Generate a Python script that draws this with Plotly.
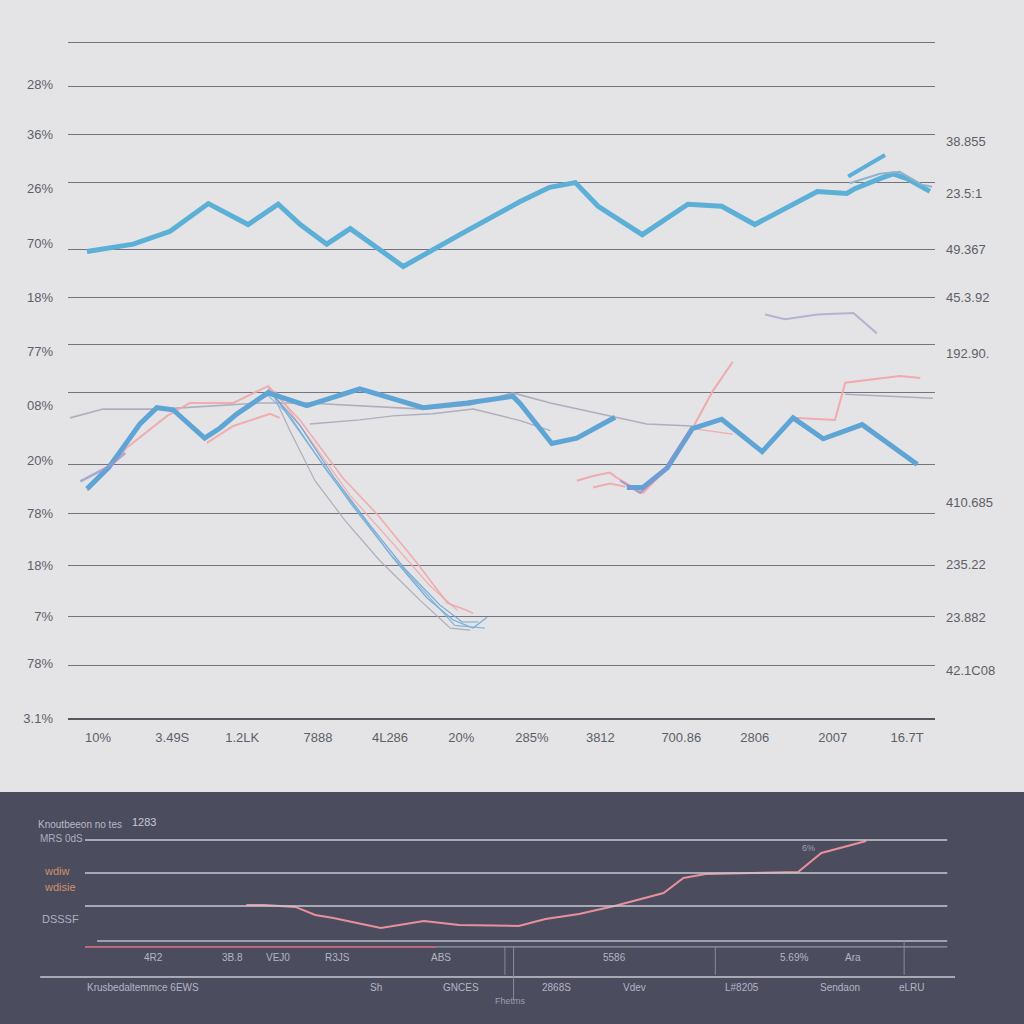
import plotly.graph_objects as go

# ---------------- top chart data ----------------
x_tick_vals = [0, 10.1, 19.6, 29.9, 39.7, 49.4, 59.0, 68.3, 79.3, 89.3, 99.9, 110]
x_tick_text = ["10%", "3.49S", "1.2LK", "7888", "4L286", "20%", "285%", "3812", "700.86", "2806", "2007", "16.7T"]

grid_vals = [100, 93.4, 86.3, 79.2, 69.3, 62.2, 55.2, 48.1, 37.5, 30.2, 22.6, 15.0, 7.8]
left_vals = [93.7, 86.3, 78.3, 70.2, 62.2, 54.3, 46.3, 38.1, 30.2, 22.6, 15.0, 8.0, 0]
left_text = ["28%", "36%", "26%", "70%", "18%", "77%", "08%", "20%", "78%", "18%", "7%", "78%", "3.1%"]
right_vals = [85.3, 77.6, 69.3, 62.2, 54.0, 31.9, 22.7, 14.9, 7.1]
right_text = ["38.855", "23.5:1", "49.367", "45.3.92", "192.90.", "410.685", "235.22", "23.882", "42.1C08"]

# upper blue series
top_blue_x = [-1.5, 4.8, 9.8, 15.0, 20.4, 24.5, 27.5, 31.1, 34.3, 41.5, 49.2, 57.4, 61.4, 64.9, 68.0,
              74.0, 80.2, 84.8, 89.3, 97.8, 101.8, 102.9, 106.3, 108.1, 110.0, 113.1]
top_blue_y = [69.0, 70.1, 72.0, 76.1, 73.0, 76.0, 73.0, 70.1, 72.4, 66.8, 71.5, 76.4, 78.5, 79.2, 75.7,
              71.5, 76.0, 75.7, 73.0, 77.9, 77.6, 78.3, 79.8, 80.5, 79.8, 77.9]
branch_x = [102.0, 107.0]
branch_y = [80.1, 83.3]
end_gray_x = [102.2, 106.3, 109.0, 112.0, 113.4]
end_gray_y = [79.1, 80.5, 80.8, 78.9, 78.6]
lav_top_x = [90.7, 93.4, 97.8, 102.7, 105.9]
lav_top_y = [59.7, 59.0, 59.7, 59.9, 56.9]

# middle blue series (two segments)
mid_blue_a_x = [-1.5, 1.4, 3.4, 5.7, 8.0, 10.2, 14.5, 16.6, 18.9, 23.1, 28.4, 35.6, 44.2, 50.2, 56.4, 57.4, 61.7, 65.1, 70.3]
mid_blue_a_y = [33.9, 37.0, 40.0, 43.5, 45.9, 45.6, 41.4, 42.9, 45.0, 48.1, 46.2, 48.7, 45.9, 46.6, 47.6, 46.5, 40.6, 41.4, 44.5]
mid_blue_b_x = [71.9, 74.1, 77.4, 80.8, 84.8, 90.3, 94.5, 98.6, 103.9, 111.4]
mid_blue_b_y = [34.1, 34.1, 37.0, 42.8, 44.2, 39.4, 44.4, 41.3, 43.4, 37.5]

# descending bundle
fall_blue1_x = [22.3, 23.4, 26.5, 31.1, 35.6, 40.1, 44.7, 48.3, 51.0, 52.9]
fall_blue1_y = [47.6, 48.4, 44.0, 36.6, 30.2, 23.7, 17.8, 14.5, 13.3, 14.9]
fall_blue2_x = [22.7, 25.4, 30.2, 34.5, 39.7, 44.5, 48.5, 52.6]
fall_blue2_y = [48.1, 45.4, 38.1, 31.5, 24.3, 18.6, 13.7, 13.3]
fall_blue3_x = [23.1, 27.5, 32.2, 37.0, 41.7, 46.5, 49.5, 51.7]
fall_blue3_y = [48.7, 43.2, 35.4, 28.5, 22.1, 16.7, 14.2, 14.2]
fall_gray_x = [23.7, 26.1, 29.5, 33.6, 38.3, 43.8, 47.9, 50.6]
fall_gray_y = [48.1, 42.5, 35.1, 29.2, 23.3, 17.4, 13.3, 13.0]
fall_pink1_x = [23.1, 27.5, 33.3, 37.9, 43.4, 47.5, 50.2, 51.0]
fall_pink1_y = [49.1, 44.0, 35.5, 30.2, 22.9, 17.0, 15.9, 15.5]
fall_pink2_x = [24.1, 28.8, 34.3, 39.7, 45.1, 48.9]
fall_pink2_y = [48.4, 41.3, 32.9, 26.3, 19.6, 15.9]

# pink series
pink_a_x = [-1.5, 1.6, 3.9, 9.4, 12.5, 18.4, 23.1, 24.7]
pink_a_y = [33.6, 37.0, 40.0, 44.7, 46.6, 46.6, 49.1, 47.3]
pink_b_x = [14.8, 18.4, 23.4, 24.7]
pink_b_y = [40.7, 43.2, 45.0, 44.4]
pink_c_x = [65.1, 67.3, 69.6, 70.6, 74.1, 77.4, 80.8, 83.6, 86.3]
pink_c_y = [35.1, 35.8, 36.3, 35.5, 33.3, 37.0, 42.8, 48.4, 52.7]
pink_d_x = [67.3, 69.6, 71.7]
pink_d_y = [34.1, 34.7, 34.2]
pink_f_x = [80.8, 86.3]
pink_f_y = [42.8, 42.0]
pink_e_x = [94.5, 100.2, 101.6, 109.0, 111.8]
pink_e_y = [44.4, 44.1, 49.6, 50.6, 50.3]

# lavender / gray series
lav_a_x = [-2.4, 1.6, 3.7]
lav_a_y = [35.0, 37.3, 39.2]
lav_b_x = [71.0, 73.7, 77.1, 80.5]
lav_b_y = [35.1, 33.3, 36.9, 42.5]
gray1_x = [-3.8, 0.7, 8.4, 22.0, 28.4, 35.6, 44.2, 50.6, 56.4, 61.5, 74.6, 80.8]
gray1_y = [44.4, 45.7, 45.7, 46.6, 46.6, 46.2, 45.7, 46.3, 48.1, 46.6, 43.5, 43.2]
gray2_x = [28.8, 35.6, 40.1, 45.5, 51.0, 57.4, 61.5]
gray2_y = [43.5, 44.1, 44.7, 45.0, 45.7, 44.0, 42.5]
gray3_x = [101.6, 113.5]
gray3_y = [47.9, 47.3]

# ---------------- bottom panel data ----------------
bottom_grid = [100, 67.3, 34.7]
bot_pink_x = [18.7, 20.8, 24.4, 26.7, 28.8, 34.3, 39.3, 43.4, 50.3, 53.4, 57.3, 61.4, 67.1, 69.4, 72.0, 82.7, 85.4, 86.7, 90.6]
bot_pink_y = [35.6, 35.6, 33.7, 25.7, 22.8, 12.9, 19.8, 15.8, 14.9, 21.8, 26.7, 34.7, 47.5, 62.4, 66.3, 68.3, 87.1, 90.1, 99.0]

fig = go.Figure()

def add(x, y, color, width, opacity=1.0, xa="x", ya="y"):
    fig.add_trace(go.Scatter(x=x, y=y, mode="lines", xaxis=xa, yaxis=ya,
                             line=dict(color=color, width=width), opacity=opacity,
                             hoverinfo="skip", showlegend=False))

BLUE = "#5cafd6"
BLUE2 = "#5ea5d6"
PINK = "#f2a7aa"
GRAY = "#a9a9ba"
LAV = "#b3b4d0"

# thin background lines first
add(gray1_x, gray1_y, GRAY, 1.6, 0.9)
add(gray2_x, gray2_y, GRAY, 1.4, 0.9)
add(gray3_x, gray3_y, GRAY, 1.4, 0.9)
add(lav_top_x, lav_top_y, LAV, 2)
add(pink_a_x, pink_a_y, PINK, 2, 0.9)
add(pink_b_x, pink_b_y, PINK, 2, 0.9)
add(fall_gray_x, fall_gray_y, GRAY, 1.2, 0.9)
add(fall_pink1_x, fall_pink1_y, PINK, 1.6, 0.9)
add(fall_pink2_x, fall_pink2_y, PINK, 1.4, 0.8)
add(fall_blue1_x, fall_blue1_y, "#6fa8d8", 1.3, 0.9)
add(fall_blue2_x, fall_blue2_y, "#7fb3dc", 1.2, 0.9)
add(fall_blue3_x, fall_blue3_y, "#6aa2d2", 1.2, 0.9)
add(pink_c_x, pink_c_y, PINK, 2, 0.95)
add(pink_d_x, pink_d_y, PINK, 2, 0.9)
add(pink_f_x, pink_f_y, PINK, 1.4, 0.9)
add(pink_e_x, pink_e_y, PINK, 2, 0.95)
# main thick lines
add(top_blue_x, top_blue_y, BLUE, 5)
add(branch_x, branch_y, BLUE, 4)
add(end_gray_x, end_gray_y, "#8fb3cc", 2)
add(mid_blue_a_x, mid_blue_a_y, BLUE2, 5)
add(mid_blue_b_x, mid_blue_b_y, BLUE2, 5)
add(lav_a_x, lav_a_y, "#9a9ad0", 2.5, 0.8)
add(lav_b_x, lav_b_y, "#8f8fcf", 2, 0.8)

# bottom panel line
add(bot_pink_x, bot_pink_y, "#e8909c", 2, 1.0, "x2", "y4")

def px_x(p):
    return p / 1024.0

def px_y(p):
    return 1 - p / 1024.0

shapes = [
    dict(type="rect", xref="paper", yref="paper", x0=0, x1=1, y0=0, y1=px_y(792),
         fillcolor="#4b4c5d", line=dict(width=0), layer="below"),
]
# bottom panel horizontal rules
for v in bottom_grid:
    shapes.append(dict(type="line", xref="x2", yref="y4", x0=0, x1=100, y0=v, y1=v,
                       line=dict(color="#c9c9d4", width=1.5)))
shapes += [
    dict(type="line", xref="x2", yref="y4", x0=1.4, x1=100, y0=0, y1=0, line=dict(color="#bdbdca", width=1.5)),
    dict(type="line", xref="x2", yref="y4", x0=0, x1=100, y0=-5.9, y1=-5.9, line=dict(color="#9696a8", width=1.2)),
    dict(type="line", xref="x2", yref="y4", x0=0, x1=40.7, y0=-5.9, y1=-5.9, line=dict(color="#d46474", width=1.5)),
    dict(type="line", xref="x2", yref="y4", x0=-5.2, x1=100.9, y0=-35.6, y1=-35.6, line=dict(color="#c9c9d4", width=1.5)),
    dict(type="line", xref="x2", yref="y4", x0=48.7, x1=48.7, y0=-5.9, y1=-33.6, line=dict(color="#8a8a9c", width=1)),
    dict(type="line", xref="x2", yref="y4", x0=49.7, x1=49.7, y0=-5.9, y1=-58.4, line=dict(color="#8a8a9c", width=1)),
    dict(type="line", xref="x2", yref="y4", x0=73.1, x1=73.1, y0=-5.9, y1=-33.6, line=dict(color="#8a8a9c", width=1)),
    dict(type="line", xref="x2", yref="y4", x0=95.0, x1=95.0, y0=1.0, y1=-33.6, line=dict(color="#8a8a9c", width=1)),
]

ann = []
def text(t, x, y, color="#b6b7c6", size=10, xanchor="left"):
    ann.append(dict(text=t, x=px_x(x), y=px_y(y), xref="paper", yref="paper",
                    xanchor=xanchor, yanchor="middle", showarrow=False,
                    font=dict(family="Liberation Sans Narrow, Liberation Sans", size=size, color=color)))

text("Knoutbeeon no tes", 36, 824, "#b9bac8", 10)
text("1283", 130, 822, "#c8c8d4", 11)
text("MRS 0dS", 38, 838, "#aeb0c0", 10)
text("wdiw", 42, 871, "#d4906e", 11)
text("wdisie", 42, 887, "#d4906e", 11)
text("DSSSF", 40, 919, "#b0b1c0", 11)
text("6%", 800, 848, "#a0a0b2", 9)
row1 = [("4R2", 153), ("3B.8", 232), ("VEJ0", 278), ("R3JS", 337), ("ABS", 441),
        ("5586", 614), ("5.69%", 794), ("Ara", 853)]
for t, x in row1:
    text(t, x, 957, "#b4b5c6", 10, "center")
text("Krusbedaltemmce 6EWS", 85, 987, "#b4b5c6", 10)
row2 = [("Sh", 376), ("GNCES", 461), ("2868S", 556), ("Vdev", 634), ("L#8205", 742),
        ("Sendaon", 840), ("eLRU", 912)]
for t, x in row2:
    text(t, x, 987, "#b4b5c6", 10, "center")
text("Fhetms", 510, 1001, "#9c9db0", 9, "center")

tick_font = dict(family="Liberation Sans", size=13, color="#5e5e68")

fig.update_layout(
    width=1024, height=1024,
    margin=dict(l=0, r=0, t=0, b=0, pad=0, autoexpand=False),
    paper_bgcolor="#e4e4e6",
    plot_bgcolor="rgba(0,0,0,0)",
    showlegend=False,
    shapes=shapes,
    annotations=ann,
    xaxis=dict(domain=[68 / 1024, 935 / 1024], range=[-4.08, 113.8], anchor="y", automargin=False,
               tickmode="array", tickvals=x_tick_vals, ticktext=x_tick_text,
               showgrid=False, zeroline=False, showline=True, linecolor="#56565f", linewidth=2,
               ticks="", ticklabelstandoff=6, tickfont=tick_font),
    yaxis=dict(domain=[px_y(718), px_y(40)], range=[0, 100.3], anchor="x", automargin=False,
               tickmode="array", tickvals=grid_vals, showticklabels=False,
               showgrid=True, gridcolor="#74747e", gridwidth=1, zeroline=False, showline=False),
    yaxis3=dict(overlaying="y", side="left", anchor="x", range=[0, 100.3], automargin=False,
                tickmode="array", tickvals=left_vals, ticktext=left_text,
                showgrid=False, zeroline=False, showline=False, ticks="",
                ticklabelstandoff=14, tickfont=tick_font),
    yaxis2=dict(overlaying="y", side="right", anchor="x", range=[0, 100.3], automargin=False,
                tickmode="array", tickvals=right_vals, ticktext=right_text,
                showgrid=False, zeroline=False, showline=False, ticks="",
                ticklabelstandoff=10, tickfont=tick_font),
    xaxis2=dict(domain=[0, 1], range=[-9.86, 108.9], anchor="y4", visible=False, automargin=False),
    yaxis4=dict(domain=[0, px_y(792)], range=[-82.2, 147.5], anchor="x2", visible=False, automargin=False),
)

# invisible anchors so the overlaid label axes render
fig.add_trace(go.Scatter(x=[None], y=[None], yaxis="y2", xaxis="x", showlegend=False, hoverinfo="skip"))
fig.add_trace(go.Scatter(x=[None], y=[None], yaxis="y3", xaxis="x", showlegend=False, hoverinfo="skip"))

post = ("document.body.style.margin='0';document.body.style.padding='0';"
        "document.body.style.overflow='hidden';"
        "document.documentElement.style.overflow='hidden';"
        "var gd=document.getElementById('{plot_id}');"
        "if(gd.parentNode){gd.parentNode.style.height='1024px';gd.parentNode.style.width='1024px';}"
        "gd.style.width='1024px';gd.style.height='1024px';"
        "Plotly.relayout(gd,{width:1024,height:1024});")

fig.write_html("out.html", config={"displayModeBar": False, "responsive": False},
               post_script=post)
